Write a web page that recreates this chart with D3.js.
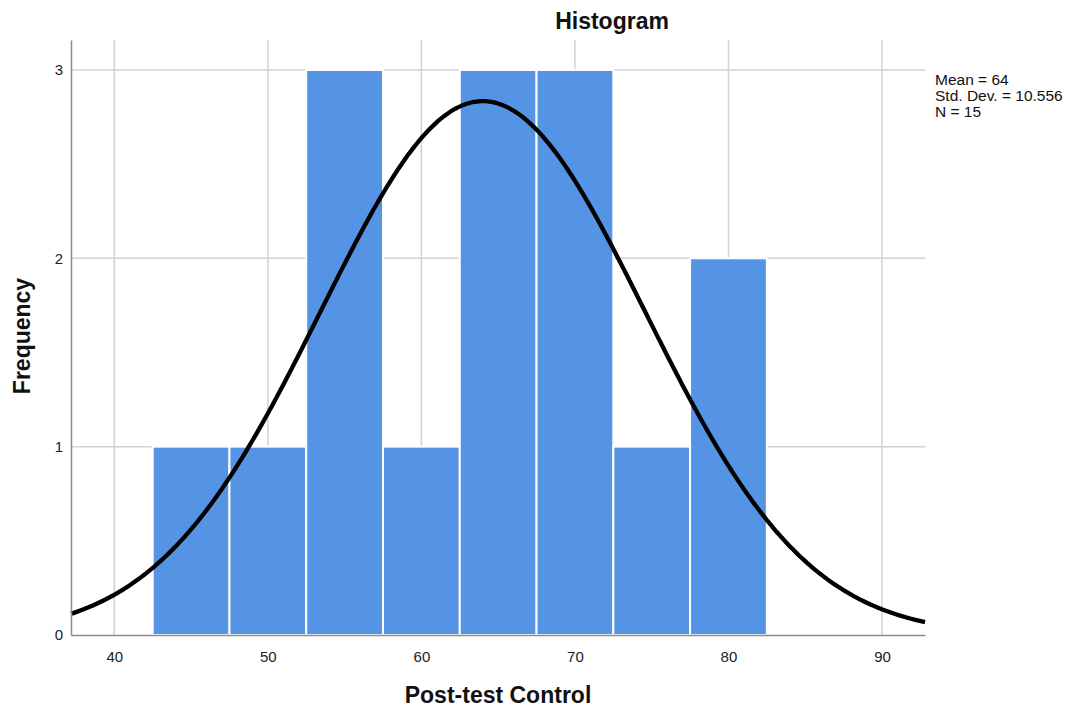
<!DOCTYPE html>
<html><head><meta charset="utf-8">
<script src="https://cdn.jsdelivr.net/npm/d3@7"></script>
<style>body{margin:0;background:#fff;} text{font-family:"Liberation Sans",Arial,sans-serif;}</style>
</head><body>
<svg id="c" width="1083" height="708"></svg>
<script>
const binStarts = [42.5, 47.5, 52.5, 57.5, 62.5, 67.5, 72.5, 77.5];
const binWidth = 5;
const frequencies = [1, 1, 3, 1, 3, 3, 1, 2];
const xTicks = [40, 50, 60, 70, 80, 90];
const yTicks = [0, 1, 2, 3];
const stats = {mean: 64, sd: 10.556, n: 15};
const statLines = ["Mean = 64", "Std. Dev. = 10.556", "N = 15"];

const svg = d3.select("#c");
const x = d3.scaleLinear().domain([37.18, 92.8]).range([71, 925]);
const y = d3.scaleLinear().domain([0, 3.159]).range([635, 40]);

// gridlines
svg.append("g").selectAll("line").data(xTicks).join("line")
  .attr("x1", d => x(d)).attr("x2", d => x(d)).attr("y1", y(3.159)).attr("y2", y(0))
  .attr("stroke", "#d2d2d2").attr("stroke-width", 1.5);
svg.append("g").selectAll("line").data(yTicks.slice(1)).join("line")
  .attr("x1", x(37.18)).attr("x2", x(92.8)).attr("y1", d => y(d)).attr("y2", d => y(d))
  .attr("stroke", "#d2d2d2").attr("stroke-width", 1.5);

// bars
svg.append("g").selectAll("rect").data(binStarts).join("rect")
  .attr("x", d => x(d)).attr("width", d => x(d + binWidth) - x(d))
  .attr("y", (d, i) => y(frequencies[i])).attr("height", (d, i) => y(0) - y(frequencies[i]))
  .attr("fill", "#5594e4").attr("stroke", "#fff").attr("stroke-width", 2);

// normal curve
const scale = stats.n * binWidth / (stats.sd * Math.sqrt(2 * Math.PI));
const curveX = d3.range(0, 401).map(i => 37.18 + (92.8 - 37.18) * i / 400);
const line = d3.line().x(d => x(d)).y(d => y(scale * Math.exp(-0.5 * ((d - stats.mean) / stats.sd) ** 2)));
svg.append("path").datum(curveX).attr("d", line)
  .attr("fill", "none").attr("stroke", "#000").attr("stroke-width", 4.3);

// axes
const xAxis = d3.axisBottom(x).tickValues(xTicks).tickSize(0).tickPadding(16);
const gx = svg.append("g").attr("transform", `translate(0,${y(0)})`).call(xAxis);
const yAxis = d3.axisLeft(y).tickValues(yTicks).tickFormat(d3.format("d")).tickSize(0).tickPadding(8);
const gy = svg.append("g").attr("transform", `translate(${x(37.18)},0)`).call(yAxis);
[gx, gy].forEach(g => {
  g.select(".domain").attr("stroke", "#8c8c8c").attr("stroke-width", 1.5);
  g.selectAll("text").attr("font-size", 15).attr("fill", "#222").attr("font-family", '"Liberation Sans",Arial,sans-serif');
});

// titles
svg.append("text").attr("x", 612).attr("y", 29).attr("text-anchor", "middle")
  .attr("font-size", 23).attr("font-weight", "bold").attr("fill", "#111").text("Histogram");
svg.append("text").attr("x", 498).attr("y", 703).attr("text-anchor", "middle")
  .attr("font-size", 23).attr("font-weight", "bold").attr("fill", "#111").text("Post-test Control");
svg.append("text").attr("transform", "translate(30,336) rotate(-90)").attr("text-anchor", "middle")
  .attr("font-size", 23).attr("font-weight", "bold").attr("fill", "#111").text("Frequency");

// stats
svg.append("g").selectAll("text").data(statLines).join("text")
  .attr("x", 935).attr("y", (d, i) => 85 + i * 16)
  .attr("font-size", 15.5).attr("fill", "#111").text(d => d);
</script>
</body></html>
